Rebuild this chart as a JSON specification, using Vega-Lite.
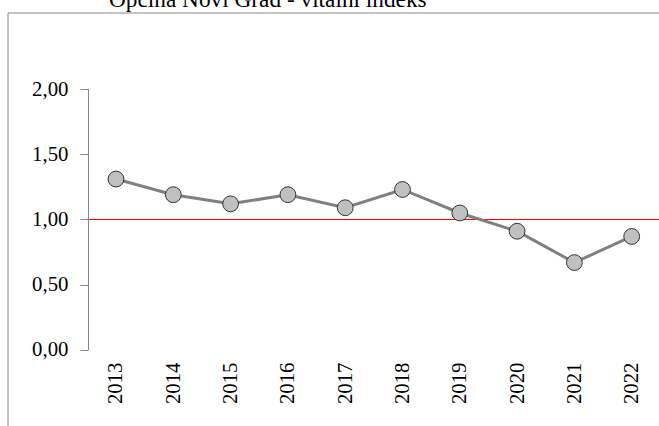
{
  "$schema": "https://vega.github.io/schema/vega-lite/v6.json",
  "autosize": "none",
  "padding": {"left": 8, "top": 13, "right": 0, "bottom": 0},
  "width": 651,
  "height": 413,
  "background": "white",
  "config": {"view": {"stroke": null}, "font": "Liberation Serif"},
  "title": {
    "text": "Općina Novi Grad - vitalni indeks",
    "font": "Liberation Serif",
    "fontSize": 23.3,
    "fontWeight": "normal",
    "color": "black",
    "anchor": "start",
    "frame": "group",
    "dx": 101,
    "dy": 18,
    "baseline": "alphabetic",
    "offset": 0
  },
  "data": {
    "values": [
      {"year": 2013, "index": 1.31},
      {"year": 2014, "index": 1.19},
      {"year": 2015, "index": 1.12},
      {"year": 2016, "index": 1.19},
      {"year": 2017, "index": 1.09},
      {"year": 2018, "index": 1.23},
      {"year": 2019, "index": 1.05},
      {"year": 2020, "index": 0.91},
      {"year": 2021, "index": 0.67},
      {"year": 2022, "index": 0.87}
    ]
  },
  "layer": [
    {
      "data": {"values": [{}]},
      "mark": {"type": "rule", "color": "#868686", "strokeWidth": 1},
      "encoding": {
        "x": {"datum": 2011.1152, "type": "quantitative"}
      }
    },
    {
      "data": {"values": [{}]},
      "mark": {"type": "rule", "color": "#868686", "strokeWidth": 1},
      "encoding": {
        "y": {"datum": 2.5824, "type": "quantitative"}
      }
    },
    {
      "data": {"values": [{}]},
      "mark": {"type": "rule", "color": "#868686", "strokeWidth": 1},
      "encoding": {
        "x": {"datum": 2012.52, "type": "quantitative"},
        "y": {"datum": 0, "type": "quantitative"},
        "y2": {"datum": 2}
      }
    },
    {
      "data": {"values": [{}]},
      "mark": {"type": "rule", "color": "#ff0000", "strokeWidth": 1},
      "encoding": {
        "x": {"datum": 2012.52, "type": "quantitative"},
        "x2": {"datum": 2022.4764},
        "y": {"datum": 1, "type": "quantitative"}
      }
    },
    {
      "mark": {"type": "line", "color": "#808080", "strokeWidth": 3},
      "encoding": {
        "x": {
          "field": "year",
          "type": "quantitative",
          "scale": {"domain": [2011.1152, 2022.4764], "nice": false, "zero": false},
          "axis": {
            "values": [2013, 2014, 2015, 2016, 2017, 2018, 2019, 2020, 2021, 2022],
            "format": "d",
            "title": null,
            "grid": false,
            "domain": false,
            "ticks": false,
            "labelAngle": 270,
            "labelFlush": false,
            "labelOverlap": false,
            "labelFont": "Liberation Serif",
            "labelFontSize": 20.8,
            "labelColor": "black",
            "labelPadding": 10,
            "offset": -74
          }
        },
        "y": {
          "field": "index",
          "type": "quantitative",
          "scale": {"domain": [-0.5824, 2.5824], "nice": false, "zero": false},
          "axis": {
            "values": [0, 0.5, 1, 1.5, 2],
            "labelExpr": "replace(format(datum.value, '.2f'), '.', ',')",
            "title": null,
            "grid": false,
            "domain": false,
            "ticks": true,
            "tickColor": "#868686",
            "tickSize": 8,
            "labelFont": "Liberation Serif",
            "labelFontSize": 20.8,
            "labelColor": "black",
            "labelPadding": 12,
            "labelFlush": false,
            "labelOverlap": false,
            "offset": -80
          }
        }
      }
    },
    {
      "mark": {"type": "point", "shape": "circle", "filled": true, "fill": "#c0c0c0", "stroke": "#333333", "strokeWidth": 1, "size": 250, "opacity": 1},
      "encoding": {
        "x": {"field": "year", "type": "quantitative"},
        "y": {"field": "index", "type": "quantitative"}
      }
    }
  ]
}
